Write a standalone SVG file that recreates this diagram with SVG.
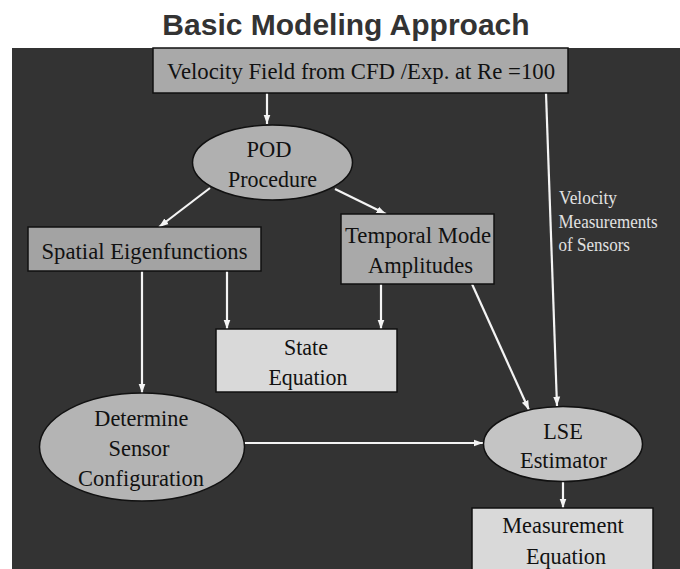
<svg xmlns="http://www.w3.org/2000/svg" width="680" height="569" viewBox="0 0 680 569">
<style>
.t{font-family:"Liberation Serif","Times New Roman",serif;font-size:24px;fill:#111;text-anchor:middle}
.lbl{font-family:"Liberation Serif","Times New Roman",serif;font-size:18.5px;fill:#e2e2e2}
.box{stroke:#111;stroke-width:1.5}
.c{stroke:#f4f4f4;stroke-width:2.2;fill:none;marker-end:url(#ah)}
</style>
<defs>
<marker id="ah" markerUnits="userSpaceOnUse" markerWidth="10" markerHeight="10" viewBox="0 0 10 10" refX="9.5" refY="5" orient="auto">
<path d="M0,1.5 L9.5,5 L0,8.5 Z" fill="#f4f4f4"/>
</marker>
</defs>
<rect x="0" y="0" width="680" height="569" fill="#ffffff"/>
<text x="346" y="35" font-family="'Liberation Sans',Arial,sans-serif" font-weight="bold" font-size="30" fill="#333" text-anchor="middle">Basic Modeling Approach</text>
<rect x="12" y="48" width="668" height="521" fill="#333333"/>

<g id="connectors">
<line class="c" x1="267" y1="93" x2="267" y2="124"/>
<line class="c" x1="210" y1="188" x2="159" y2="227"/>
<line class="c" x1="335" y1="189" x2="386" y2="214"/>
<line class="c" x1="227" y1="271" x2="227" y2="329"/>
<line class="c" x1="142" y1="271" x2="142" y2="393"/>
<line class="c" x1="381" y1="284" x2="381" y2="329"/>
<line class="c" x1="472" y1="284" x2="529" y2="410"/>
<line class="c" x1="546" y1="93" x2="557" y2="406"/>
<line class="c" x1="244" y1="443" x2="483" y2="443"/>
<line class="c" x1="563" y1="482" x2="563" y2="508"/>
</g>

<g id="velocity-field">
<rect class="box" x="153" y="48" width="415" height="45" fill="#a9a9a9"/>
<text class="t" x="361" y="79" textLength="388" lengthAdjust="spacingAndGlyphs">Velocity Field from CFD /Exp. at Re =100</text>
</g>

<g id="pod">
<ellipse class="box" cx="272.5" cy="162.5" rx="80" ry="37.5" fill="#b0b0b0"/>
<text class="t" x="269" y="157" textLength="45" lengthAdjust="spacingAndGlyphs">POD</text>
<text class="t" x="272.5" y="187" textLength="89" lengthAdjust="spacingAndGlyphs">Procedure</text>
</g>

<g id="spatial">
<rect class="box" x="28" y="227" width="233" height="44" fill="#a3a3a3"/>
<text class="t" x="144.5" y="259" textLength="206" lengthAdjust="spacingAndGlyphs">Spatial Eigenfunctions</text>
</g>

<g id="temporal">
<rect class="box" x="341" y="214" width="153" height="70" fill="#a9a9a9"/>
<text class="t" x="418" y="243" textLength="146" lengthAdjust="spacingAndGlyphs">Temporal Mode</text>
<text class="t" x="420.5" y="273" textLength="105" lengthAdjust="spacingAndGlyphs">Amplitudes</text>
</g>

<g id="velocity-label">
<text class="lbl" x="559" y="204" textLength="58" lengthAdjust="spacingAndGlyphs">Velocity</text>
<text class="lbl" x="558.5" y="227.5" textLength="99" lengthAdjust="spacingAndGlyphs">Measurements</text>
<text class="lbl" x="558.5" y="250.5" textLength="71.5" lengthAdjust="spacingAndGlyphs">of Sensors</text>
</g>

<g id="state">
<rect class="box" x="216" y="329" width="181" height="63" fill="#d9d9d9"/>
<text class="t" x="306" y="355" textLength="44" lengthAdjust="spacingAndGlyphs">State</text>
<text class="t" x="308" y="385" textLength="79" lengthAdjust="spacingAndGlyphs">Equation</text>
</g>

<g id="determine">
<ellipse class="box" cx="142" cy="447" rx="102.5" ry="54" fill="#b4b4b4"/>
<text class="t" x="141.3" y="426" textLength="94" lengthAdjust="spacingAndGlyphs">Determine</text>
<text class="t" x="139" y="456" textLength="61" lengthAdjust="spacingAndGlyphs">Sensor</text>
<text class="t" x="141" y="486" textLength="126" lengthAdjust="spacingAndGlyphs">Configuration</text>
</g>

<g id="lse">
<ellipse class="box" cx="563" cy="444" rx="79.5" ry="37.5" fill="#c4c4c4"/>
<text class="t" x="563" y="438.5" textLength="39.5" lengthAdjust="spacingAndGlyphs">LSE</text>
<text class="t" x="563.5" y="467.5" textLength="87" lengthAdjust="spacingAndGlyphs">Estimator</text>
</g>

<g id="measurement">
<rect class="box" x="472" y="508" width="181" height="70" fill="#d9d9d9"/>
<text class="t" x="563" y="533" textLength="121.5" lengthAdjust="spacingAndGlyphs">Measurement</text>
<text class="t" x="566" y="563.5" textLength="80" lengthAdjust="spacingAndGlyphs">Equation</text>
</g>
</svg>
